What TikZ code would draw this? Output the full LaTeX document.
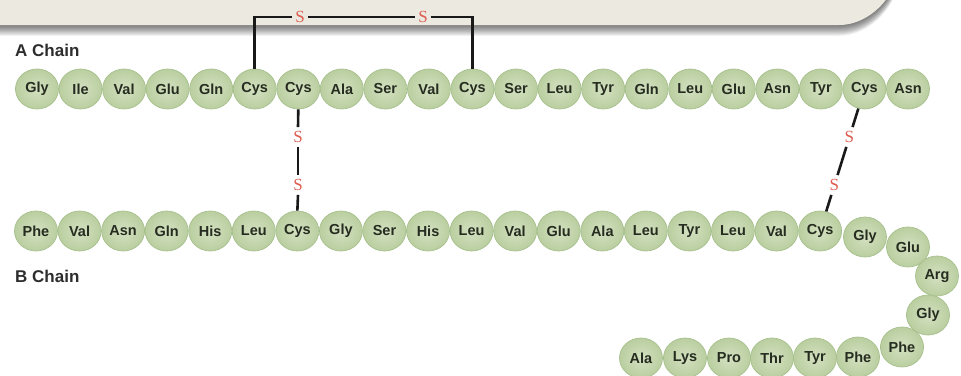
\documentclass[tikz,border=0pt]{standalone}
\usepackage{fontspec}
\setmainfont{Liberation Sans}
\newfontfamily\bondfont{Liberation Serif}
\usetikzlibrary{shapes.geometric,calc}

\definecolor{bandfill}{RGB}{236,234,224}
\definecolor{aainner}{RGB}{212,225,193}
\definecolor{aaouter}{RGB}{186,206,160}
\definecolor{aaedge}{RGB}{165,192,140}
\definecolor{aatext}{RGB}{38,44,32}
\definecolor{sulfur}{RGB}{222,92,80}
\definecolor{bondcol}{RGB}{25,25,25}
\definecolor{labelcol}{RGB}{45,45,45}

\tikzset{
  aa/.style={ellipse, minimum width=43pt, minimum height=40pt, inner sep=0pt,
    shading=radial, inner color=aainner, outer color=aaouter,
    draw=aaedge, line width=0.7pt, text=aatext,
    font=\bfseries\fontsize{14.5}{14.5}\selectfont},
  sulf/.style={text=sulfur, inner xsep=3pt, inner ysep=4pt,
    font=\bondfont\fontsize{17}{17}\selectfont},
  bond/.style={draw=bondcol, line width=2.6pt},
  chainlabel/.style={anchor=west, text=labelcol, inner sep=0pt,
    font=\bfseries\fontsize{17}{17}\selectfont}
}

\begin{document}
\begin{tikzpicture}[x=1pt, y=-1pt]
\useasboundingbox (0,0) rectangle (961,375);

% header band with soft shadow underneath
\foreach \i in {1,...,12}{
  \fill[black, opacity=0.055, yshift={-0.9pt*\i}]
    (-10,-100) -- (-10,25) -- (839,25)
    .. controls (872,25) and (899,-8) .. (899,-35) -- (899,-100) -- cycle;
}
\fill[bandfill]
  (-10,-100) -- (-10,25) -- (839,25)
  .. controls (872,25) and (899,-8) .. (899,-35) -- (899,-100) -- cycle;

% chain labels
\node[chainlabel] (labA) at (15,50) {A Chain};
\node[chainlabel] (labB) at (15,276) {B Chain};

% A chain
\foreach \n [count=\i] in {Gly,Ile,Val,Glu,Gln,Cys,Cys,Ala,Ser,Val,Cys,Ser,Leu,Tyr,Gln,Leu,Glu,Asn,Tyr,Cys,Asn}
  \node[aa] (A\i) at ({37+43.55*(\i-1)},89) {\n};

% B chain, straight part
\foreach \n [count=\i] in {Phe,Val,Asn,Gln,His,Leu,Cys,Gly,Ser,His,Leu,Val,Glu,Ala,Leu,Tyr,Leu,Val,Cys}
  \node[aa] (B\i) at ({36+43.56*(\i-1)},231) {\n};

% B chain, turn and return
\node[aa] (B20) at (865,237) {Gly};
\node[aa] (B21) at (908,247) {Glu};
\node[aa] (B22) at (937,276) {Arg};
\node[aa] (B23) at (928,315) {Gly};
\node[aa] (B24) at (902,347) {Phe};
\node[aa] (B25) at (858,357) {Phe};
\node[aa] (B26) at (815,358) {Tyr};
\node[aa] (B27) at (772,358) {Thr};
\node[aa] (B28) at (729,358) {Pro};
\node[aa] (B29) at (685,358) {Lys};
\node[aa] (B30) at (641,358) {Ala};

% intra-chain disulfide bridge A6--A11
\node[sulf] (s1) at (300,17) {S};
\node[sulf] (s2) at (423,17) {S};
\draw[bond] (A6.north) |- (s1.west);
\draw[bond] (s1.east) -- (s2.west);
\draw[bond] (s2.east) -| (A11.north);

% inter-chain bridge A7--B7
\node[sulf] (s3) at (298,137) {S};
\node[sulf] (s4) at (298,185) {S};
\draw[bond] (A7.south) -- (s3.north);
\draw[bond] (s3.south) -- (s4.north);
\draw[bond] (s4.south) -- (B7.north);

% inter-chain bridge A20--B19
\node[sulf] (s5) at ($(A20)!0.338!(B19)$) {S};
\node[sulf] (s6) at ($(A20)!0.676!(B19)$) {S};
\draw[bond] (A20) -- (s5);
\draw[bond] (s5) -- (s6);
\draw[bond] (s6) -- (B19);
\end{tikzpicture}
\end{document}
